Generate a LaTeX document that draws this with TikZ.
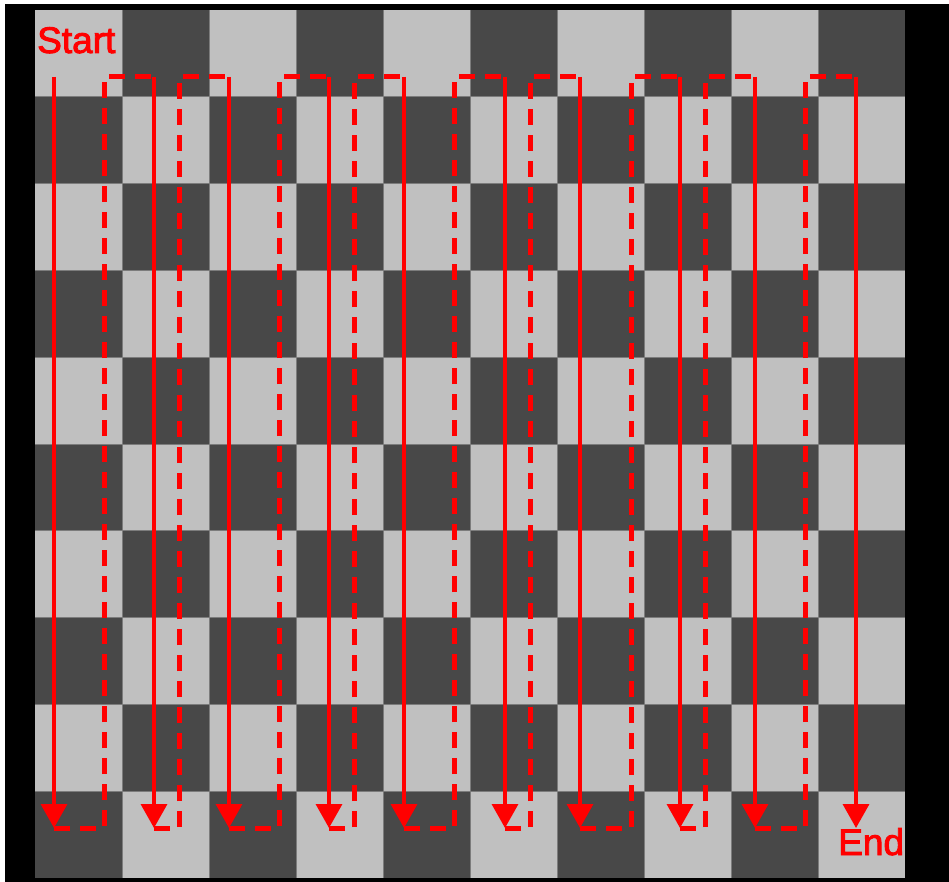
\documentclass[tikz,border=0pt]{standalone}
\usepackage{fontspec}
\setmainfont{Liberation Sans}
\usetikzlibrary{arrows.meta}
\definecolor{lightsq}{HTML}{C0C0C0}
\definecolor{darksq}{HTML}{484848}
\definecolor{gridgray}{HTML}{7C7C7C}
\definecolor{pathred}{HTML}{FF0000}
\newcommand{\outlinetext}[1]{\textcolor{pathred}{\special{pdf:literal direct 1 0 0 RG 0.9 w 2 Tr}#1\special{pdf:literal direct 0 Tr}}}
\tikzset{
  solidpath/.style={draw=pathred, line width=3.5pt, -{Triangle[length=24pt,width=26pt]}},
  dashpath/.style={draw=pathred, line width=5pt, dash pattern=on 16pt off 10pt, line join=miter},
  gridline/.style={draw=gridgray, line width=1pt},
  labeltext/.style={inner sep=0pt, anchor=base west, font=\fontsize{37}{40}\selectfont},
}
\begin{document}
\begin{tikzpicture}[x=1pt,y=-1pt]
\useasboundingbox (0,0) rectangle (949,882);
\fill[white] (0,0) rectangle (949,882);
\fill[black] (5,4) rectangle (949,882);
% board
\fill[darksq] (35,10) rectangle (905,878);
\foreach \i in {0,...,9}{
  \foreach \j in {0,...,9}{
    \pgfmathtruncatemacro\p{mod(\i+\j,2)}
    \ifnum\p=0
      \fill[lightsq] ({35+87*\i},{10+86.8*\j}) rectangle ({35+87*(\i+1)},{10+86.8*(\j+1)});
    \fi
  }
}
\foreach \i in {1,...,9}{
  \draw[gridline] ({35+87*\i},10) -- ({35+87*\i},878);
  \draw[gridline] (35,{10+86.8*\i}) -- (905,{10+86.8*\i});
}
% path coordinates
\foreach \k/\x in {1/54,2/154,3/229,4/329,5/404,6/505,7/580,8/680,9/755,10/856}{
  \coordinate (st\k) at (\x,77);
  \coordinate (sb\k) at (\x,828);
}
\foreach \k/\x in {1/104,2/179,3/279,4/354,5/454,6/530,7/631,8/705,9/805}{
  \coordinate (dt\k) at (\x,77);
  \coordinate (db\k) at (\x,828);
}
% dashed returns
\foreach \k in {1,...,9}{
  \pgfmathtruncatemacro\kk{\k+1}
  \draw[dashpath] (sb\k) -- (db\k) -- (dt\k) -- (st\kk);
}
% solid runs
\foreach \k in {1,...,10}{
  \draw[solidpath] (st\k) -- (sb\k);
}
% labels
\node[labeltext] (start) at (37,53) {\outlinetext{Start}};
\node[labeltext] (end) at (838,855) {\outlinetext{End}};
\end{tikzpicture}
\end{document}
